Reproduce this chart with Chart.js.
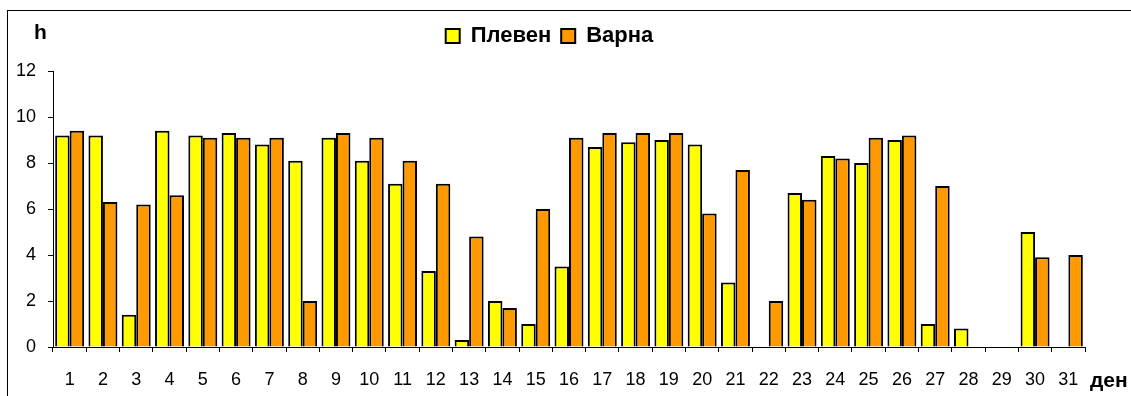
<!DOCTYPE html>
<html>
<head>
<meta charset="utf-8">
<script src="https://cdn.jsdelivr.net/npm/chart.js@4/dist/chart.umd.min.js"></script>
<style>
  html, body { margin: 0; padding: 0; background: #fff; }
  #wrap { width: 1131px; height: 396px; position: relative; }
</style>
</head>
<body>
<div id="wrap"><canvas id="sunChart"></canvas></div>
<script>
const days = ['1', '2', '3', '4', '5', '6', '7', '8', '9', '10', '11', '12', '13', '14', '15', '16',
  '17', '18', '19', '20', '21', '22', '23', '24', '25', '26', '27', '28', '29', '30', '31'];
const pleven = [9.2, 9.2, 1.4, 9.4, 9.2, 9.3, 8.8, 8.1, 9.1, 8.1, 7.1, 3.3, 0.3, 2.0, 1.0, 3.5,
  8.7, 8.9, 9.0, 8.8, 2.8, null, 6.7, 8.3, 8.0, 9.0, 1.0, 0.8, null, 5.0, null];
const varna = [9.4, 6.3, 6.2, 6.6, 9.1, 9.1, 9.1, 2.0, 9.3, 9.1, 8.1, 7.1, 4.8, 1.7, 6.0, 9.1,
  9.3, 9.3, 9.3, 5.8, 7.7, 2.0, 6.4, 8.2, 9.1, 9.2, 7.0, null, null, 3.9, 4.0];
const yTicks = [0, 2, 4, 6, 8, 10, 12];

const FONT = "'Liberation Sans', Arial, sans-serif";

// frame round the chart, plus the axis captions "h" and "ден"
const extras = {
  id: 'extras',
  beforeInit(chart) {
    const fit = chart.legend.fit;
    chart.legend.fit = function () {
      fit.call(this);
      this.height += 14;
    };
  },
  beforeDraw(chart) {
    const ctx = chart.ctx;
    ctx.save();
    ctx.strokeStyle = '#000';
    ctx.lineWidth = 1;
    ctx.strokeRect(7.5, 10.5, 2000, 2000);
    ctx.restore();
  },
  afterDraw(chart) {
    const ctx = chart.ctx;
    const area = chart.chartArea;
    ctx.save();
    ctx.fillStyle = '#000';
    ctx.font = 'bold 21px ' + FONT;
    ctx.textBaseline = 'alphabetic';
    ctx.textAlign = 'left';
    ctx.fillText('h', area.left - 19, area.top - 32);
    ctx.fillText('ден', area.right + 5, area.bottom + 40);
    ctx.restore();
  }
};

const ctx = document.getElementById('sunChart').getContext('2d');
new Chart(ctx, {
  type: 'bar',
  data: {
    labels: days,
    datasets: [
      {
        label: 'Плевен',
        data: pleven,
        backgroundColor: '#FFFF00',
        borderColor: '#000',
        borderWidth: 2,
        borderSkipped: 'bottom',
      },
      {
        label: 'Варна',
        data: varna,
        backgroundColor: '#FF9900',
        borderColor: '#000',
        borderWidth: 2,
        borderSkipped: 'bottom',
      },
    ],
  },
  options: {
    responsive: true,
    maintainAspectRatio: false,
    animation: false,
    categoryPercentage: 0.87,
    barPercentage: 1.0,
    layout: {
      padding: { left: 14, right: 46, top: 15, bottom: 0 },
    },
    plugins: {
      legend: {
        position: 'top',
        labels: {
          color: '#000',
          boxWidth: 14,
          boxHeight: 14,
          padding: 10,
          font: { family: FONT, size: 22, weight: 'bold' },
        },
      },
      title: { display: false },
      tooltip: { enabled: false },
    },
    scales: {
      x: {
        afterFit(scale) { scale.height = 49; },
        grid: {
          drawOnChartArea: false,
          drawTicks: true,
          tickLength: 5,
          color: '#000',
          offset: true,
        },
        border: { color: '#000', width: 1 },
        ticks: {
          color: '#000',
          padding: 17,
          maxRotation: 0,
          autoSkip: false,
          font: { family: FONT, size: 18 },
        },
      },
      y: {
        min: 0,
        max: 12,
        afterFit(scale) { scale.width = 39; },
        afterBuildTicks(scale) {
          scale.ticks = yTicks.map(v => ({ value: v }));
        },
        grid: {
          drawOnChartArea: false,
          drawTicks: true,
          tickLength: 5,
          color: '#000',
        },
        border: { color: '#000', width: 1 },
        ticks: {
          color: '#000',
          padding: 12,
          font: { family: FONT, size: 18 },
        },
      },
    },
  },
  plugins: [extras],
});
</script>
</body>
</html>
